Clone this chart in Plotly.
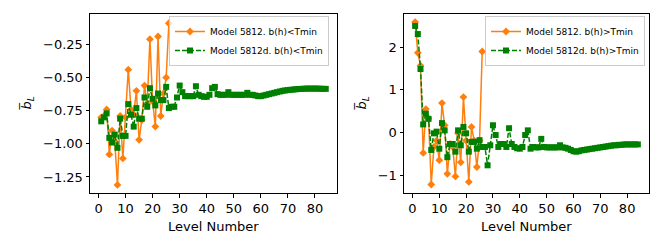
import plotly.graph_objects as go

levels_orange = list(range(1, 27))
levels_green = list(range(1, 85))

left_orange = [-0.80, -0.79, -0.74, -1.08, -0.90, -0.98, -1.31, -0.79, -1.11, -0.80,
               -0.44, -0.74, -0.78, -0.60, -0.97, -0.82, -0.56, -0.70, -0.21, -0.68,
               -0.87, -0.19, -0.79, -0.62, -0.50, -0.09]
left_green = [-0.83, -0.80, -0.77, -0.955, -0.99, -0.93, -1.03, -0.81, -0.94, -0.94,
              -0.70, -0.78, -0.87, -0.73, -0.81, -0.81, -0.65, -0.72, -0.58, -0.66,
              -0.71, -0.62, -0.67, -0.67, -0.57, -0.73, -0.72, -0.72, -0.65, -0.56,
              -0.61, -0.64, -0.64, -0.64, -0.64, -0.565, -0.63, -0.64, -0.645, -0.645,
              -0.63, -0.58, -0.57, -0.625, -0.63, -0.63, -0.63, -0.61, -0.63, -0.63,
              -0.63, -0.63, -0.63, -0.63, -0.615, -0.63, -0.63, -0.635, -0.64, -0.64,
              -0.635, -0.63, -0.625, -0.62, -0.615, -0.61, -0.605, -0.60, -0.597, -0.594,
              -0.592, -0.59, -0.588, -0.586, -0.585, -0.584, -0.583, -0.583, -0.583, -0.583,
              -0.583, -0.584, -0.585, -0.585]

right_orange = [2.59, 1.87, 1.57, -0.48, 0.55, 0.33, -1.22, -0.34, -0.19, -0.65,
                0.69, 0.17, -0.97, -0.27, -0.34, -1.03, -0.02, -0.70, 0.83, -0.19,
                -1.16, 0.13, -0.19, -0.81, -0.19, 1.90]
right_green = [2.50, 2.31, 1.49, 0.19, 0.44, 0.32, -0.41, -0.02, 0.02, -0.38,
               0.22, 0.05, -0.58, -0.27, -0.27, -0.45, 0.05, -0.30, 0.13, -0.02,
               -0.45, -0.22, -0.22, -0.38, -0.18, -0.34, -0.34, -0.77, -0.30, 0.17,
               -0.06, -0.34, -0.27, -0.27, -0.34, 0.10, -0.27, -0.34, -0.37, -0.38,
               -0.34, -0.06, 0.05, -0.38, -0.34, -0.35, -0.35, -0.15, -0.34, -0.35,
               -0.35, -0.35, -0.35, -0.35, -0.30, -0.35, -0.36, -0.38, -0.41, -0.44,
               -0.45, -0.44, -0.42, -0.41, -0.40, -0.39, -0.38, -0.37, -0.36, -0.35,
               -0.34, -0.33, -0.32, -0.31, -0.30, -0.30, -0.29, -0.29, -0.28, -0.28,
               -0.28, -0.28, -0.28, -0.28]

x_ticks = [0, 10, 20, 30, 40, 50, 60, 70, 80]
left_yticks = [-1.25, -1.00, -0.75, -0.50, -0.25]
left_yticktext = ["\u22121.25", "\u22121.00", "\u22120.75", "\u22120.50", "\u22120.25"]
right_yticks = [-1, 0, 1, 2]
right_yticktext = ["\u22121", "0", "1", "2"]

ORANGE = "#ff7f0e"
GREEN = "#008000"
FONT = "DejaVu Sans"

fig = go.Figure()

def add_pair(xa, ya, orange, green, name_o, name_g, legend):
    fig.add_trace(go.Scatter(
        x=levels_orange, y=orange, mode="lines+markers", name=name_o,
        xaxis=xa, yaxis=ya, legend=legend,
        line=dict(color=ORANGE, width=1.5),
        marker=dict(symbol="diamond", size=6, color=ORANGE)))
    fig.add_trace(go.Scatter(
        x=levels_green, y=green, mode="lines+markers", name=name_g,
        xaxis=xa, yaxis=ya, legend=legend,
        line=dict(color=GREEN, width=1.5, dash="5px,2px"),
        marker=dict(symbol="square", size=6, color=GREEN)))

add_pair("x", "y", left_orange, left_green,
         "Model 5812. b(h)&lt;Tmin", "Model 5812d. b(h)&lt;Tmin", "legend")
add_pair("x2", "y2", right_orange, right_green,
         "Model 5812. b(h)&gt;Tmin", "Model 5812d. b(h)&gt;Tmin", "legend2")

axis_common = dict(showline=True, linecolor="black", linewidth=1, mirror=True,
                   ticks="outside", ticklen=3.5, tickwidth=0.8, tickcolor="black",
                   showgrid=False, zeroline=False,
                   tickfont=dict(family=FONT, size=13, color="black"))

legend_common = dict(xanchor="right", yanchor="top",
                     bgcolor="rgba(255,255,255,0.8)", bordercolor="#cccccc", borderwidth=1,
                     font=dict(family=FONT, size=9), tracegroupgap=0, itemwidth=30)

fig.update_layout(
    width=664, height=249,
    margin=dict(l=0, r=0, t=0, b=0),
    paper_bgcolor="white", plot_bgcolor="white",
    font=dict(family=FONT, color="black"),
    xaxis=dict(domain=[90/664, 337/664], range=[-3.15, 88.15], anchor="y",
               tickvals=x_ticks, **axis_common),
    yaxis=dict(domain=[1-193/249, 1-14/249], range=[-1.371, -0.02], anchor="x",
               tickvals=left_yticks, ticktext=left_yticktext, **axis_common),
    xaxis2=dict(domain=[404/664, 649/664], range=[-3.15, 88.15], anchor="y2",
                tickvals=x_ticks, **axis_common),
    yaxis2=dict(domain=[1-193/249, 1-14/249], range=[-1.42, 2.78], anchor="x2",
                tickvals=right_yticks, ticktext=right_yticktext, **axis_common),
    legend=dict(x=329/664, y=1-16/249, **legend_common),
    legend2=dict(x=645/664, y=1-16/249, **legend_common),
    showlegend=True,
)

annots = [
    dict(text="Level Number", x=(90+337)/2/664, y=1-226/249),
    dict(text="Level Number", x=(404+649)/2/664, y=1-226/249),
    dict(text="<i>b\u0305</i><sub><i>L</i></sub>", x=27/664, y=1-103/249, textangle=-90),
    dict(text="<i>b\u0305</i><sub><i>L</i></sub>", x=362/664, y=1-103/249, textangle=-90),
]
for a in annots:
    fig.add_annotation(xref="paper", yref="paper", showarrow=False,
                       xanchor="center", yanchor="middle",
                       font=dict(family=FONT, size=13, color="black"), **a)

fig.write_html("out.html", config={"displayModeBar": False},
               post_script="document.body.style.margin='0';document.body.style.padding='0';")
